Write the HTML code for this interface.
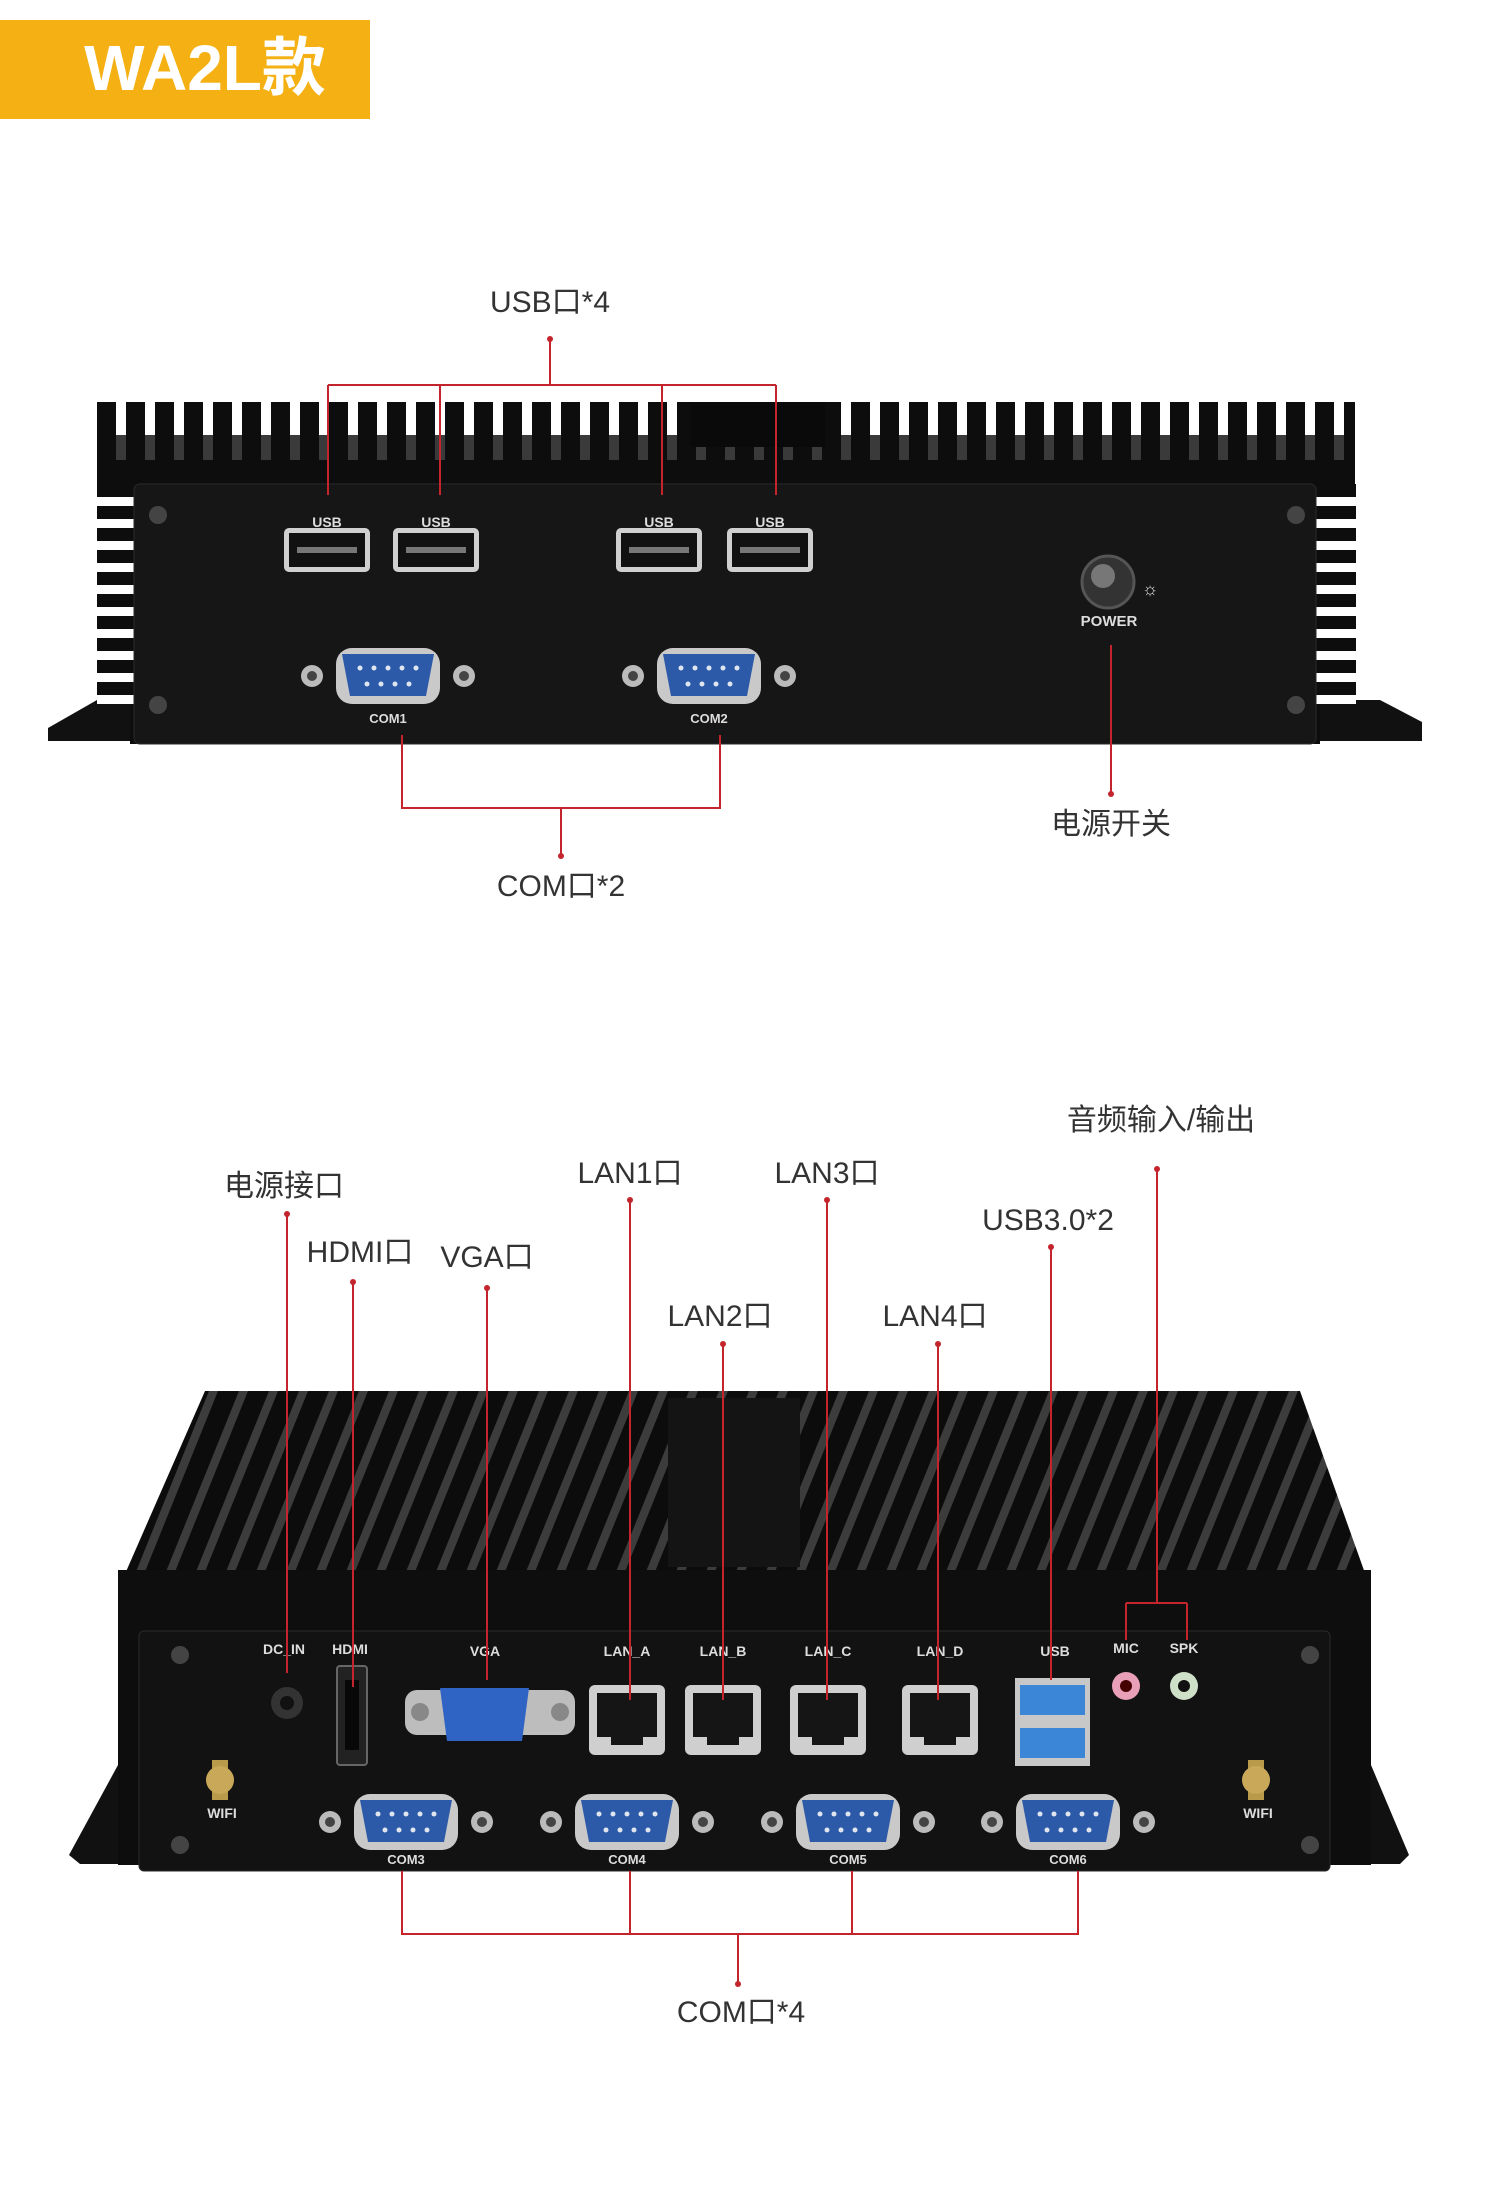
<!DOCTYPE html>
<html><head><meta charset="utf-8"><style>
html,body{margin:0;padding:0;background:#fff;}
svg{display:block;}
.lbl{font-family:"Liberation Sans","Noto Sans CJK SC",sans-serif;font-size:30px;fill:#333;text-anchor:middle;}
.pl{font-family:"Liberation Sans",sans-serif;font-size:14px;font-weight:bold;fill:#ddd;text-anchor:middle;}
.r{stroke:#c4252c;stroke-width:2;fill:none;}
</style></head><body>
<svg width="1500" height="2206" viewBox="0 0 1500 2206" xmlns="http://www.w3.org/2000/svg">
<defs>
<pattern id="fin" x="97" y="0" width="29" height="10" patternUnits="userSpaceOnUse">
<rect width="29" height="10" fill="#3a3a3a"/><rect x="0" width="19" height="10" fill="#0d0d0d"/>
</pattern>
<pattern id="fintop" x="97" y="0" width="29" height="10" patternUnits="userSpaceOnUse">
<rect width="29" height="10" fill="#ffffff"/><rect x="0" width="19" height="10" fill="#0d0d0d"/>
</pattern>
<pattern id="fin2" x="0" y="0" width="30" height="40" patternUnits="userSpaceOnUse" patternTransform="skewX(-22)">
<rect width="30" height="40" fill="#3c3c3c"/><rect x="0" width="21" height="40" fill="#0c0c0c"/>
</pattern>
<pattern id="side" x="0" y="0" width="10" height="22" patternUnits="userSpaceOnUse">
<rect width="10" height="22" fill="#fff"/><rect width="10" height="13" fill="#0d0d0d"/>
</pattern>
<g id="db9"><rect x="-52" y="-28" width="104" height="56" rx="16" fill="#c9c9c9"/><path d="M-46,-22 h92 l-8,42 h-76z" fill="#2d5aa8"/>
<g fill="#e0e6f0"><circle cx="-28" cy="-8" r="2.5"/><circle cx="-14" cy="-8" r="2.5"/><circle cx="0" cy="-8" r="2.5"/><circle cx="14" cy="-8" r="2.5"/><circle cx="28" cy="-8" r="2.5"/><circle cx="-21" cy="8" r="2.5"/><circle cx="-7" cy="8" r="2.5"/><circle cx="7" cy="8" r="2.5"/><circle cx="21" cy="8" r="2.5"/></g>
<circle cx="-76" cy="0" r="11" fill="#bbb"/><circle cx="-76" cy="0" r="5" fill="#444"/><circle cx="76" cy="0" r="11" fill="#bbb"/><circle cx="76" cy="0" r="5" fill="#444"/></g>
<g id="usb"><rect x="-43" y="-22" width="86" height="44" rx="5" fill="#d0d0d0"/><rect x="-38" y="-17" width="76" height="34" fill="#111"/><rect x="-30" y="-3" width="60" height="6" fill="#777"/></g>
<g id="lan"><rect x="-38" y="-35" width="76" height="70" rx="6" fill="#cfcfcf"/><path d="M-30,-27 h60 v44 h-14 v8 h-32 v-8 h-14z" fill="#151515"/></g>
</defs>
<!-- banner -->
<rect x="0" y="20" width="370" height="99" fill="#f5b014"/>
<text x="205" y="90" style="font-family:'Liberation Sans','Noto Sans CJK SC',sans-serif;font-size:64px;font-weight:bold;fill:#fff;text-anchor:middle">WA2L款</text>

<!-- TOP DEVICE -->
<polygon points="48,728 97,700 1380,700 1422,722 1422,741 48,741" fill="#111"/>
<rect x="97" y="402" width="1258" height="40" fill="url(#fintop)"/>
<rect x="97" y="435" width="1258" height="50" fill="url(#fin)"/>
<rect x="97" y="460" width="1258" height="30" fill="#0d0d0d"/>
<rect x="690" y="402" width="135" height="45" fill="#0a0a0a"/>
<rect x="130" y="470" width="1190" height="274" fill="#0d0d0d"/>
<rect x="97" y="484" width="37" height="220" fill="url(#side)"/>
<rect x="1316" y="484" width="40" height="220" fill="url(#side)"/>
<rect x="134" y="484" width="1182" height="260" rx="6" fill="#161616" stroke="#2a2a2a"/>
<g fill="#444"><circle cx="158" cy="515" r="9"/><circle cx="1296" cy="515" r="9"/><circle cx="158" cy="705" r="9"/><circle cx="1296" cy="705" r="9"/></g>
<text class="pl" x="327" y="527">USB</text><text class="pl" x="436" y="527">USB</text><text class="pl" x="659" y="527">USB</text><text class="pl" x="770" y="527">USB</text>
<use href="#usb" x="327" y="550"/><use href="#usb" x="436" y="550"/><use href="#usb" x="659" y="550"/><use href="#usb" x="770" y="550"/>
<use href="#db9" x="388" y="676"/><use href="#db9" x="709" y="676"/>
<text class="pl" x="388" y="723" style="font-size:13px">COM1</text><text class="pl" x="709" y="723" style="font-size:13px">COM2</text>
<circle cx="1108" cy="582" r="26" fill="#333" stroke="#555" stroke-width="3"/><circle cx="1103" cy="576" r="12" fill="#777"/>
<text class="pl" x="1150" y="595" style="font-size:18px">☼</text>
<text class="pl" x="1109" y="626" style="font-size:15px">POWER</text>
<!-- top connectors -->
<text class="lbl" x="550" y="312">USB口*4</text>
<circle cx="550" cy="339" r="3" fill="#c4252c"/>
<path class="r" d="M550,339 V385 M328,385 H776 M328,385 V495 M440,385 V495 M662,385 V495 M776,385 V495"/>
<path class="r" d="M402,735 V808 H720 V735 M561,808 V856"/>
<circle cx="561" cy="856" r="3" fill="#c4252c"/>
<text class="lbl" x="561" y="896">COM口*2</text>
<path class="r" d="M1111,645 V794"/><circle cx="1111" cy="794" r="3" fill="#c4252c"/>
<text class="lbl" x="1111" y="834">电源开关</text>

<!-- BOTTOM DEVICE -->
<polygon points="69,1855 118,1765 1371,1765 1409,1855 1400,1864 80,1864" fill="#111"/>
<polygon points="205,1391 1300,1391 1371,1590 1371,1640 118,1640 118,1590" fill="url(#fin2)"/>
<rect x="118" y="1570" width="1253" height="80" fill="#0e0e0e"/>
<polygon points="668,1398 800,1398 800,1567 668,1567" fill="#141414"/>
<rect x="118" y="1640" width="1253" height="225" fill="#0d0d0d"/>
<rect x="139" y="1631" width="1191" height="240" rx="5" fill="#121212" stroke="#2a2a2a"/>
<g fill="#444"><circle cx="180" cy="1655" r="9"/><circle cx="1310" cy="1655" r="9"/><circle cx="180" cy="1845" r="9"/><circle cx="1310" cy="1845" r="9"/></g>
<g><text class="pl" x="284" y="1654">DC_IN</text><text class="pl" x="350" y="1654">HDMI</text><text class="pl" x="485" y="1656">VGA</text><text class="pl" x="627" y="1656">LAN_A</text><text class="pl" x="723" y="1656">LAN_B</text><text class="pl" x="828" y="1656">LAN_C</text><text class="pl" x="940" y="1656">LAN_D</text><text class="pl" x="1055" y="1656">USB</text><text class="pl" x="1126" y="1653">MIC</text><text class="pl" x="1184" y="1653">SPK</text></g>
<circle cx="287" cy="1703" r="16" fill="#333"/><circle cx="287" cy="1703" r="7" fill="#111"/>
<rect x="337" y="1666" width="30" height="99" rx="3" fill="#222" stroke="#666" stroke-width="2"/><rect x="345" y="1680" width="14" height="70" fill="#080808"/>
<rect x="405" y="1690" width="170" height="45" rx="12" fill="#bdbdbd"/><circle cx="420" cy="1712" r="9" fill="#888"/><circle cx="560" cy="1712" r="9" fill="#888"/>
<path d="M440,1688 h89 l-7,53 h-75z" fill="#2f63c4"/>
<use href="#lan" x="627" y="1720"/><use href="#lan" x="723" y="1720"/><use href="#lan" x="828" y="1720"/><use href="#lan" x="940" y="1720"/>
<rect x="1015" y="1678" width="75" height="88" fill="#c8c8c8"/><rect x="1020" y="1685" width="65" height="30" fill="#3b86d6"/><rect x="1020" y="1728" width="65" height="30" fill="#3b86d6"/>
<circle cx="1126" cy="1686" r="14" fill="#e7a0b8"/><circle cx="1126" cy="1686" r="6" fill="#400"/>
<circle cx="1184" cy="1686" r="14" fill="#cfe0c8"/><circle cx="1184" cy="1686" r="6" fill="#111"/>
<rect x="212" y="1760" width="16" height="40" fill="#b89a4a"/><circle cx="220" cy="1780" r="14" fill="#c9a85a"/>
<rect x="1248" y="1760" width="16" height="40" fill="#b89a4a"/><circle cx="1256" cy="1780" r="14" fill="#c9a85a"/>
<text class="pl" x="222" y="1818">WIFI</text><text class="pl" x="1258" y="1818">WIFI</text>
<use href="#db9" x="406" y="1822"/><use href="#db9" x="627" y="1822"/><use href="#db9" x="848" y="1822"/><use href="#db9" x="1068" y="1822"/>
<text class="pl" x="406" y="1864" style="font-size:13px">COM3</text><text class="pl" x="627" y="1864" style="font-size:13px">COM4</text><text class="pl" x="848" y="1864" style="font-size:13px">COM5</text><text class="pl" x="1068" y="1864" style="font-size:13px">COM6</text>
<!-- bottom labels & lines -->
<text class="lbl" x="284" y="1196">电源接口</text>
<text class="lbl" x="360" y="1262">HDMI口</text>
<text class="lbl" x="487" y="1267">VGA口</text>
<text class="lbl" x="630" y="1183">LAN1口</text>
<text class="lbl" x="827" y="1183">LAN3口</text>
<text class="lbl" x="720" y="1326">LAN2口</text>
<text class="lbl" x="935" y="1326">LAN4口</text>
<text class="lbl" x="1048" y="1230">USB3.0*2</text>
<text class="lbl" x="1161" y="1130">音频输入/输出</text>
<g fill="#c4252c"><circle cx="287" cy="1214" r="3"/><circle cx="353" cy="1282" r="3"/><circle cx="487" cy="1288" r="3"/><circle cx="630" cy="1200" r="3"/><circle cx="827" cy="1200" r="3"/><circle cx="723" cy="1344" r="3"/><circle cx="938" cy="1344" r="3"/><circle cx="1051" cy="1247" r="3"/><circle cx="1157" cy="1169" r="3"/><circle cx="738" cy="1984" r="3"/></g>
<path class="r" d="M287,1214 V1673 M353,1282 V1687 M487,1288 V1680 M630,1200 V1700 M827,1200 V1700 M723,1344 V1700 M938,1344 V1700 M1051,1247 V1680 M1157,1169 V1603 M1126,1603 H1187 M1126,1603 V1640 M1187,1603 V1640"/>
<path class="r" d="M402,1871 V1934 H1078 V1871 M630,1871 V1934 M852,1871 V1934 M738,1934 V1984"/>
<text class="lbl" x="741" y="2022">COM口*4</text>
</svg>
</body></html>
